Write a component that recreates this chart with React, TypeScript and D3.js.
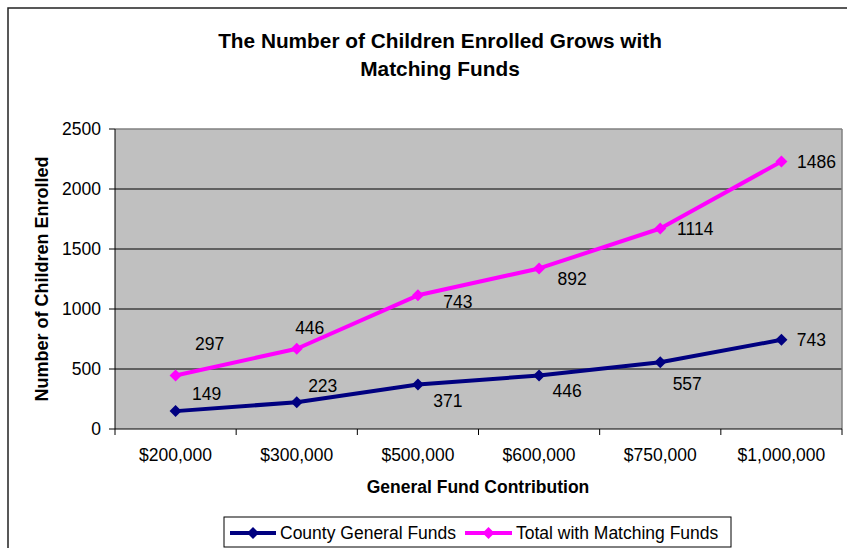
import React from "react";
import * as d3 from "d3";

const categories = ["$200,000", "$300,000", "$500,000", "$600,000", "$750,000", "$1,000,000"];
const countyValues = [149, 223, 371, 446, 557, 743];
const totalValues = [446, 669, 1114, 1338, 1671, 2229];
const countyLabels = ["149", "223", "371", "446", "557", "743"];
const totalLabels = ["297", "446", "743", "892", "1114", "1486"];
const yTicks = [0, 500, 1000, 1500, 2000, 2500];
const seriesNames = ["County General Funds", "Total with Matching Funds"];
const titleLines = ["The Number of Children Enrolled Grows with", "Matching Funds"];

// label placement offsets (style)
const countyOffsets = [[31, -17], [26, -16], [30, 17], [28, 16], [27, 22], [30, 0]];
const totalOffsets = [[34, -31], [13, -21], [40, 7], [33, 11], [35, 1], [35, 0]];

const FONT = "'Liberation Sans', Arial, sans-serif";

export default function App() {
  const left = 115, right = 842, top = 129, bottom = 429;
  const x = d3.scaleBand<string>().domain(categories).range([left, right]);
  const y = d3.scaleLinear().domain([0, 2500]).range([bottom, top]);
  const cx = (c: string) => (x(c) as number) + x.bandwidth() / 2;
  const line = d3.line<number>().x((_, i) => cx(categories[i])).y((v) => y(v));
  const diamond = (px: number, py: number, r = 6) =>
    `M${px},${py - r}L${px + r},${py}L${px},${py + r}L${px - r},${py}Z`;
  const navy = "#000080";
  const pink = "#FF00FF";
  const fs = 17.5;

  const series = [
    { values: countyValues, labels: countyLabels, offsets: countyOffsets, color: navy },
    { values: totalValues, labels: totalLabels, offsets: totalOffsets, color: pink },
  ];

  return (
    <svg width={847} height={548} style={{ position: "absolute", left: 0, top: 0, fontFamily: FONT }}>
      <rect x={0} y={0} width={847} height={548} fill="#fff" />
      <rect x={8} y={8} width={900} height={600} fill="#fff" stroke="#222" strokeWidth={1.5} />
      {titleLines.map((t, i) => (
        <text key={i} x={440} y={40 + i * 28} textAnchor="middle" dominantBaseline="central"
          fontSize={20.8} fontWeight="bold" fill="#000">{t}</text>
      ))}
      <rect x={left} y={top} width={right - left} height={bottom - top} fill="#C0C0C0" />
      {yTicks.filter((t) => t > 0 && t < 2500).map((t) => (
        <line key={t} x1={left} x2={right} y1={y(t)} y2={y(t)} stroke="#000" strokeWidth={1} />
      ))}
      <line x1={left} x2={right} y1={top} y2={top} stroke="#808080" strokeWidth={1.5} />
      <line x1={right} x2={right} y1={top} y2={bottom} stroke="#808080" strokeWidth={1.5} />
      <line x1={left} x2={left} y1={top} y2={bottom} stroke="#000" strokeWidth={1} />
      <line x1={left} x2={right} y1={bottom} y2={bottom} stroke="#000" strokeWidth={1} />
      {yTicks.map((t) => (
        <g key={t}>
          <line x1={left - 6} x2={left} y1={y(t)} y2={y(t)} stroke="#000" />
          <text x={101} y={y(t)} textAnchor="end" dominantBaseline="central" fontSize={fs} fill="#000">{t}</text>
        </g>
      ))}
      {categories.map((c) => (
        <g key={c}>
          <line x1={x(c) as number} x2={x(c) as number} y1={bottom} y2={bottom + 6} stroke="#000" />
          <text x={cx(c)} y={455} textAnchor="middle" dominantBaseline="central" fontSize={fs} fill="#000">{c}</text>
        </g>
      ))}
      <line x1={right} x2={right} y1={bottom} y2={bottom + 6} stroke="#000" />
      <text x={478} y={487} textAnchor="middle" dominantBaseline="central" fontSize={17.5} fontWeight="bold" fill="#000">General Fund Contribution</text>
      <text transform={`translate(42,279) rotate(-90)`} textAnchor="middle" dominantBaseline="central"
        fontSize={18} fontWeight="bold" fill="#000">Number of Children Enrolled</text>
      {series.map((s, si) => (
        <g key={si}>
          <path d={line(s.values) as string} fill="none" stroke={s.color} strokeWidth={4} strokeLinejoin="round" />
          {s.values.map((v, i) => (
            <path key={i} d={diamond(cx(categories[i]), y(v))} fill={s.color} />
          ))}
          {s.values.map((v, i) => (
            <text key={"l" + i} x={cx(categories[i]) + s.offsets[i][0]} y={y(v) + s.offsets[i][1]}
              textAnchor="middle" dominantBaseline="central" fontSize={fs} fill="#000">{s.labels[i]}</text>
          ))}
        </g>
      ))}
      <rect x={224} y={517} width={507} height={30} fill="#fff" stroke="#000" strokeWidth={1} />
      {[{ x0: 230, x1: 276, tx: 280 }, { x0: 465, x1: 512, tx: 516 }].map((l, i) => (
        <g key={i}>
          <line x1={l.x0} x2={l.x1} y1={533} y2={533} stroke={series[i].color} strokeWidth={4} />
          <path d={diamond((l.x0 + l.x1) / 2, 533, 6)} fill={series[i].color} />
          <text x={l.tx} y={533} dominantBaseline="central" fontSize={fs} fill="#000">{seriesNames[i]}</text>
        </g>
      ))}
    </svg>
  );
}
